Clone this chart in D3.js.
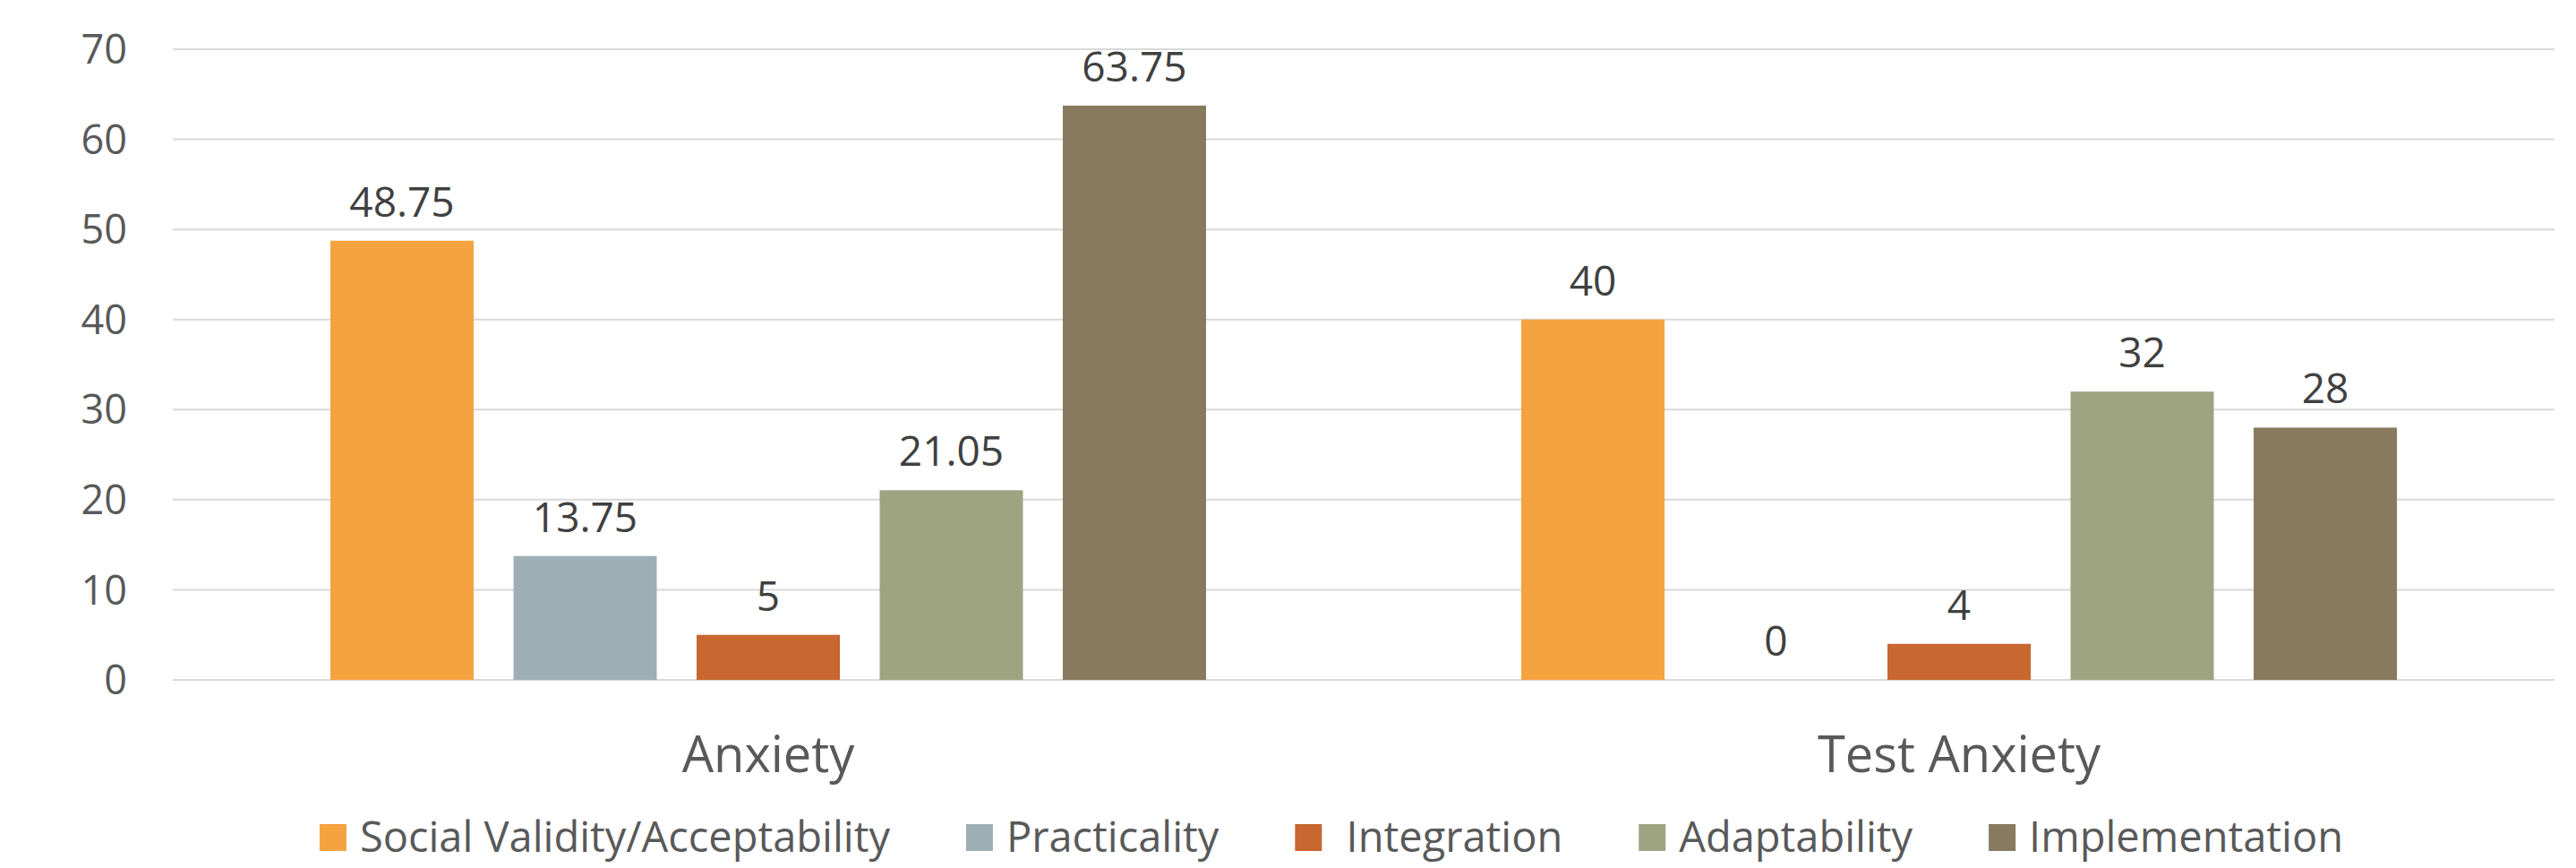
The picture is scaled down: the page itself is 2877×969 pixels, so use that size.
<!DOCTYPE html>
<html lang="en">
	<head>
		<meta charset="utf-8">
		<title>D3: grouped bar chart</title>
		<script type="text/javascript" src="https://d3js.org/d3.v7.min.js"></script>
		<style type="text/css">
		body {
			margin: 0;
			background: #ffffff;
		}
		.grid line {
			stroke: #d9d9d9;
			stroke-width: 2;
		}
		.tickLabel, .catLabel, .legendText {
			fill: #595959;
			font-family: "Open Sans", sans-serif;
		}
		.valueLabel {
			fill: #404040;
			font-family: "Open Sans", sans-serif;
		}
		</style>
	</head>
	<body>
		<script type="text/javascript">

			// data
			var categories = ["Anxiety", "Test Anxiety"];
			var series = ["Social Validity/Acceptability", "Practicality", " Integration", "Adaptability", "Implementation"];
			var colors = ["#f5a340", "#9dafb5", "#c86730", "#9ea482", "#877a5e"];
			var socialValidity = [48.75, 40];
			var practicality = [13.75, 0];
			var integration = [5, 4];
			var adaptability = [21.05, 32];
			var implementation = [63.75, 28];
			var yTicks = [0, 10, 20, 30, 40, 50, 60, 70];

			var values = [socialValidity, practicality, integration, adaptability, implementation];

			var width = 2877, height = 969;
			var plot = {left: 193, right: 2853, top: 55, bottom: 759};

			var svg = d3.select("body")
				.append("svg")
				.attr("width", width)
				.attr("height", height);

			var x0 = d3.scaleBand()
				.domain(categories)
				.range([plot.left, plot.right]);

			var groupW = x0.bandwidth() * 0.7353;

			var x1 = d3.scaleBand()
				.domain(series)
				.range([0, groupW])
				.paddingInner(0.2176);

			var yScale = d3.scaleLinear()
				.domain([0, 70])
				.range([plot.bottom, plot.top]);

			// gridlines
			svg.append("g")
				.attr("class", "grid")
				.selectAll("line")
				.data(yTicks)
				.enter()
				.append("line")
				.attr("x1", plot.left)
				.attr("x2", plot.right)
				.attr("y1", function(d) { return yScale(d); })
				.attr("y2", function(d) { return yScale(d); });

			// y tick labels
			svg.append("g")
				.selectAll("text")
				.data(yTicks)
				.enter()
				.append("text")
				.attr("class", "tickLabel")
				.attr("x", 142)
				.attr("y", function(d) { return yScale(d); })
				.attr("dy", "0.36em")
				.style("text-anchor", "end")
				.style("font-size", "45px")
				.text(function(d) { return d; });

			// bars
			var groups = svg.selectAll(".group")
				.data(categories)
				.enter()
				.append("g")
				.attr("class", "group")
				.attr("transform", function(d) { return "translate(" + (x0(d) + (x0.bandwidth() - groupW) / 2) + ",0)"; });

			groups.selectAll("rect")
				.data(function(c, ci) { return series.map(function(s, si) { return {s: s, i: si, v: values[si][ci]}; }); })
				.enter()
				.append("rect")
				.attr("x", function(d) { return x1(d.s); })
				.attr("width", x1.bandwidth())
				.attr("y", function(d) { return yScale(d.v); })
				.attr("height", function(d) { return yScale(0) - yScale(d.v); })
				.attr("fill", function(d) { return colors[d.i]; });

			groups.selectAll(".valueLabel")
				.data(function(c, ci) { return series.map(function(s, si) { return {s: s, i: si, v: values[si][ci]}; }); })
				.enter()
				.append("text")
				.attr("class", "valueLabel")
				.attr("x", function(d) { return x1(d.s) + x1.bandwidth() / 2; })
				.attr("y", function(d) { return yScale(d.v) - 27; })
				.style("text-anchor", "middle")
				.style("font-size", "46px")
				.text(function(d) { return d.v; });

			// category labels
			svg.append("g")
				.selectAll("text")
				.data(categories)
				.enter()
				.append("text")
				.attr("class", "catLabel")
				.attr("x", function(d) { return x0(d) + x0.bandwidth() / 2; })
				.attr("y", 862)
				.style("text-anchor", "middle")
				.style("font-size", "56px")
				.text(function(d) { return d; });

			// legend
			var legend = svg.append("g");
			var lx = 0;
			series.forEach(function(s, i) {
				var item = legend.append("g").attr("transform", "translate(" + lx + ",0)");
				item.append("rect")
					.attr("x", 0)
					.attr("y", 920)
					.attr("width", 30)
					.attr("height", 30)
					.attr("fill", colors[i]);
				var t = item.append("text")
					.attr("class", "legendText")
					.attr("x", 45)
					.attr("y", 951)
					.style("font-size", "47px")
					.style("white-space", "pre")
					.attr("xml:space", "preserve")
					.text(s);
				lx += 45 + t.node().getComputedTextLength() + 85;
			});
			var legendW = lx - 85;
			legend.attr("transform", "translate(" + (1487 - legendW / 2) + ",0)");

		</script>
	</body>
</html>
